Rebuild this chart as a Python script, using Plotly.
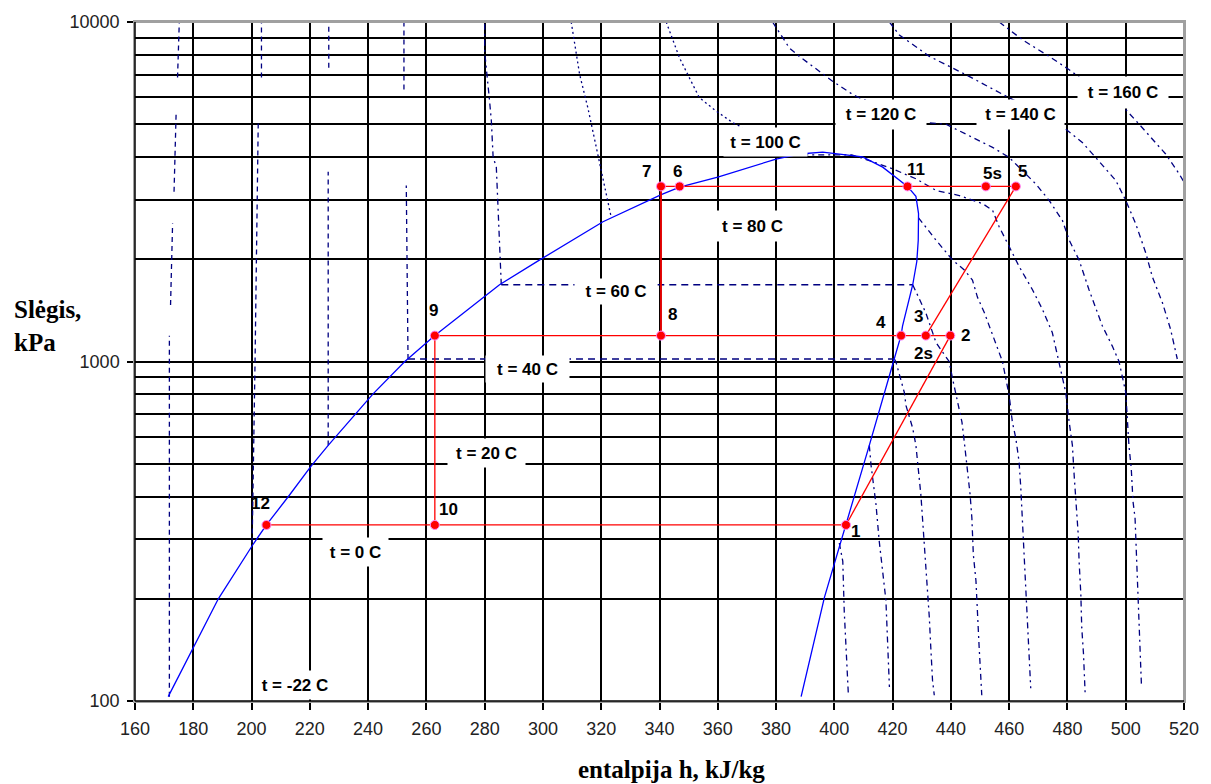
import math
import plotly.graph_objects as go

# ---------------- data ----------------
# saturation dome of the refrigerant: enthalpy (kJ/kg) and pressure (kPa)
dome_h = [171.4, 180.0, 188.6, 200.6, 205.1, 213.1, 220.3, 226.3, 236.0, 241.7, 252.6, 262.9,
          285.1, 298.9, 320.6, 340.6, 346.9, 360.0, 380.0, 388.0, 396.0, 405.1, 409.7, 416.6,
          422.3, 425.1, 428.0, 428.9, 428.8, 428.3, 426.9, 425.1, 423.4, 422.9, 421.1, 420.3,
          412.0, 404.0, 396.6, 388.6]
dome_P = [103, 144, 200, 290, 330, 405, 490, 566, 709, 803, 1000, 1192,
          1683, 1992, 2580, 3100, 3264, 3491, 3947, 4085, 4135, 4060, 4007, 3736,
          3411, 3279, 3065, 2728, 2277, 1970, 1683, 1455, 1272, 1194, 1062, 1000,
          566, 330, 202, 103]

# cycle state points
pt_labels = ["12", "10", "1", "9", "8", "4", "3", "2", "7", "6", "11", "5s", "5"]
pt_h = [205.1, 262.9, 404.0, 262.9, 340.5, 422.9, 431.4, 439.8, 340.5, 346.9, 425.1, 452.0, 462.3]
pt_P = [330, 330, 330, 1192, 1192, 1192, 1192, 1192, 3279, 3279, 3279, 3279, 3279]
# label offsets in pixels (right, down)
pt_dx = [-6, 14, 10, -1, 12, -20, -7, 15, -14, -2, 9, 7, 7]
pt_dy = [-21, -15, 7, -25, -21, -13, -19, 0, -15, -15, -17, -13, -15]
# process lines of the cycle (chains of state points)
cycle_paths = [["12", "10", "1"], ["10", "9"], ["9", "8", "4", "3", "2"], ["1", "2"],
               ["3", "5"], ["7", "6", "11", "5s", "5"]]
throttle_path = ["8", "7"]

# isotherms (None = gap in the drawn line)
tm22_h = [171.8, 171.8, 171.8, None, 172.2, 172.9, None, 173.4, 174.1, None, 174.6, 175.2]
tm22_P = [103, 1000, 1191, None, 1468, 2550, None, 3162, 5346, None, 6860, 10000]

t0_liq_h = [200.2, 200.9, 201.2, 202.3, None, 203.4, 203.4]
t0_liq_P = [293, 880, 1000, 5100, None, 6860, 10000]
t0_vap_h = [401.7, 402.9, 403.4, 404.0, 404.8]
t0_vap_P = [292, 258, 184, 147, 105]

t20_liq_h = [226.3, 226.3, None, 226.5, 226.5]
t20_liq_P = [566, 3619, None, 7335, 10000]
t20_vap_h = [412.0, 412.6, 414.3, 415.4, 417.7, 418.9]
t20_vap_P = [566, 495, 379, 296, 198, 110]

t40_liq_h = [253.7, 253.1, None, 252.3, 252.3]
t40_liq_P = [1017, 3300, None, 6326, 10000]
t40_two_h = [253.7, 420.6]
t40_two_P = [1017, 1017]
t40_vap_h = [420.6, 421.1, 424.0, 424.6, 426.9, 428.0, 429.7, 430.6, 431.2, 432.0, 432.6, 433.1, 433.7, 434.3]
t40_vap_P = [1017, 1000, 812, 741, 636, 566, 405, 317, 258, 206, 176, 144, 115, 104]

t60_liq_h = [285.7, 285.1, 284.6, 284.0, 282.9, 282.3, 281.7, 280.6, 280.0, 280.0]
t60_liq_P = [1683, 2330, 2676, 3738, 4000, 5100, 5838, 7146, 8170, 10000]
t60_two_h = [285.7, 426.9]
t60_two_P = [1683, 1683]
t60_vap_h = [426.9, 431.4, 434.9, 439.4, 440.6, 442.3, 443.8, 444.6, 445.7, 446.6, 447.2, 447.7,
             448.6, 449.1, 449.7, 450.6]
t60_vap_P = [1683, 1391, 1137, 1000, 888, 762, 663, 580, 484, 405, 346, 270, 226, 180, 144, 104]

t80_liq_h = [309.7, 312.6, 315.4, 319.4, 321.7, 323.4]
t80_liq_P = [10000, 6998, 5596, 3820, 3120, 2666]
t80_vap_h = [428.9, 434.9, 440.6, 444.6, 447.4, 449.1, 451.5, 454.0, 456.0, 457.7, 460.0, 461.1,
             462.3, 463.4, 464.0, 464.6, 465.1, 465.7, 466.3, 466.9, 467.4]
t80_vap_P = [2650, 2277, 1989, 1860, 1738, 1548, 1391, 1217, 1090, 1000, 794, 663,
             593, 507, 423, 338, 270, 221, 169, 144, 109]

t100_liq_h = [342.3, 346.9, 351.4, 353.7, 359.4, 365.1, 367.4, 378.0]
t100_liq_P = [10000, 7830, 6545, 5982, 5469, 5054, 4940, 4060]
t100_vap_h = [378.0, 406.0, 412.0, 420.0, 428.0, 434.9, 442.9, 450.9, 454.3, 456.6, 460.0, 463.4,
              468.0, 471.4, 474.8, 477.1, 479.4, 480.6, 481.7, 482.3, 482.9, 483.7, 484.0, 484.6,
              484.9, 485.5, 486.1]
t100_vap_P = [4060, 4060, 3908, 3694, 3453, 3190, 3082, 2917, 2788, 2490, 2181, 1906,
              1627, 1425, 1217, 1000, 812, 663, 566, 463, 387, 309, 258, 206,
              165, 138, 104]

t120_h = [378.8, 384.6, 388.0, 394.9, 399.4, 406.3, 408.6, 420.0, 431.4, 438.3, 448.6, 454.3,
          460.0, 464.6, 469.1, 473.7, 478.3, 480.6, 484.0, 487.4, 492.0, 495.4, 497.7, 500.0,
          500.6, 501.1, 501.9, 502.5, 503.2, 503.7, 504.0, 504.6, 505.2, 505.4]
t120_P = [10000, 8379, 7920, 7156, 6694, 6117, 5982, 5500, 5054, 5000, 4518, 4273,
          3990, 3650, 3337, 2984, 2600, 2277, 1989, 1627, 1272, 1110, 1000, 812,
          678, 566, 484, 387, 346, 270, 211, 165, 132, 111]

t140_h = [418.9, 422.3, 432.6, 445.1, 458.9, 470.0, 479.4, 485.1, 489.7, 496.6, 500.0, 503.4,
          506.9, 509.1, 512.6, 515.4, 517.7]
t140_P = [10000, 9160, 7920, 7000, 6050, 5400, 4834, 4418, 3990, 3411, 2984, 2549,
          2086, 1780, 1489, 1244, 1017]

t160_h = [456.6, 464.6, 473.7, 480.6, 485.1, 498.9, 504.6, 513.7, 518.3, 521.7]
t160_P = [10000, 8858, 7920, 7236, 6770, 5655, 5000, 4085, 3573, 3190]

# isotherm labels: text, enthalpy, log10(pressure), box width, box height (px)
iso_text = ["t = -22 C", "t = 0 C", "t = 20 C", "t = 40 C", "t = 60 C", "t = 80 C",
            "t = 100 C", "t = 120 C", "t = 140 C", "t = 160 C"]
iso_h = [214.9, 235.8, 280.5, 294.7, 324.9, 371.9, 376.3, 416.1, 463.8, 499.1]
iso_logP = [2.0468, 2.4386, 2.731, 2.9766, 3.2076, 3.4006, 3.6462, 3.728, 3.728, 3.7924]
iso_w = [78, 65, 77, 83, 82, 77, 83, 90, 87, 90]
iso_hgt = [28, 28, 28, 26, 25, 30, 28, 29, 29, 31]

x_ticks = list(range(160, 521, 20))
y_major = [100, 1000, 10000]
y_major_text = ["100", "1000", "10000"]
y_minor = [m * d for d in (100, 1000) for m in range(2, 10)]

# ---------------- styles ----------------
NAVY = "#000080"
DASH_LIQ = "5px,4px"
DASH_TWO = "7px,5px"
DASH_VAP = "6px,4px,2px,4px"
DOT = "2px,3px"

fig = go.Figure()


def iso(h, P, dash, width=1.3):
    fig.add_trace(go.Scatter(x=h, y=P, mode="lines", showlegend=False, hoverinfo="skip",
                             connectgaps=False,
                             line=dict(color=NAVY, width=width, dash=dash)))


iso(tm22_h, tm22_P, DASH_LIQ)
iso(t0_liq_h, t0_liq_P, DASH_LIQ)
iso(t0_vap_h, t0_vap_P, DASH_VAP)
iso(t20_liq_h, t20_liq_P, DASH_LIQ)
iso(t20_vap_h, t20_vap_P, DASH_VAP)
iso(t40_liq_h, t40_liq_P, DASH_LIQ)
iso(t40_two_h, t40_two_P, DASH_TWO)
iso(t40_vap_h, t40_vap_P, DASH_VAP)
iso(t60_liq_h, t60_liq_P, DASH_VAP)
iso(t60_two_h, t60_two_P, DASH_TWO)
iso(t60_vap_h, t60_vap_P, DASH_VAP)
iso(t80_liq_h, t80_liq_P, DOT)
iso(t80_vap_h, t80_vap_P, DASH_VAP)
iso(t100_liq_h, t100_liq_P, DOT)
iso(t100_vap_h, t100_vap_P, DASH_VAP)
iso(t120_h, t120_P, DASH_VAP)
iso(t140_h, t140_P, DASH_VAP)
iso(t160_h, t160_P, DASH_VAP)

# saturation dome
fig.add_trace(go.Scatter(x=dome_h, y=dome_P, mode="lines", showlegend=False, hoverinfo="skip",
                         line=dict(color="#0000FF", width=1.3)))

# cycle lines
idx = {lab: i for i, lab in enumerate(pt_labels)}
cx, cy = [], []
for path in cycle_paths:
    for lab in path:
        cx.append(pt_h[idx[lab]])
        cy.append(pt_P[idx[lab]])
    cx.append(None)
    cy.append(None)
fig.add_trace(go.Scatter(x=cx, y=cy, mode="lines", showlegend=False, hoverinfo="skip",
                         connectgaps=False, line=dict(color="#FF0000", width=1.3)))
fig.add_trace(go.Scatter(x=[pt_h[idx[l]] for l in throttle_path],
                         y=[pt_P[idx[l]] for l in throttle_path],
                         mode="lines", showlegend=False, hoverinfo="skip",
                         line=dict(color="#E00000", width=2)))

# state point markers
fig.add_trace(go.Scatter(x=pt_h, y=pt_P, mode="markers", showlegend=False, hoverinfo="skip",
                         marker=dict(size=9, color="#FF0000",
                                     line=dict(color="#FF88FF", width=1))))

LBL_FONT = dict(family="Liberation Sans", size=17, color="black")

annotations = []
for lab, h, P, dx, dy in zip(pt_labels, pt_h, pt_P, pt_dx, pt_dy):
    annotations.append(dict(x=h, y=math.log10(P), xref="x", yref="y", text="<b>%s</b>" % lab,
                            showarrow=False, xshift=dx, yshift=-dy, font=LBL_FONT))
# extra label of point 3 (isentropic end state 2s)
annotations.append(dict(x=pt_h[idx["3"]], y=math.log10(pt_P[idx["3"]]), xref="x", yref="y",
                        text="<b>2s</b>", showarrow=False, xshift=-2, yshift=-18, font=LBL_FONT))

for t, h, lp, w, hh in zip(iso_text, iso_h, iso_logP, iso_w, iso_hgt):
    annotations.append(dict(x=h, y=lp, xref="x", yref="y", text="<b>%s</b>" % t,
                            showarrow=False, bgcolor="white", borderpad=0,
                            width=w, height=hh, font=LBL_FONT))

TITLE_FONT = dict(family="Liberation Serif", size=25, color="black")
annotations.append(dict(x=-0.1171, y=0.5526, xref="paper", yref="paper",
                        text="<b>Slėgis,<br>kPa</b>", showarrow=False, align="left",
                        xanchor="left", yanchor="middle", font=TITLE_FONT))
annotations.append(dict(x=0.5114, y=-0.1009, xref="paper", yref="paper",
                        text="<b>entalpija h, kJ/kg</b>", showarrow=False,
                        xanchor="center", yanchor="middle", font=TITLE_FONT))

TICK_FONT = dict(family="Liberation Sans", size=18, color="#222222")

fig.update_layout(
    width=1211, height=784,
    margin=dict(l=135, r=26, t=17, b=83, pad=0),
    paper_bgcolor="white", plot_bgcolor="white",
    showlegend=False,
    annotations=annotations,
    xaxis=dict(range=[160, 520], tickmode="array", tickvals=x_ticks,
               ticktext=[str(v) for v in x_ticks], tickfont=TICK_FONT,
               showgrid=True, gridcolor="black", gridwidth=1.5,
               ticks="outside", ticklen=7, tickcolor="black", tickwidth=1.5,
               ticklabelstandoff=4,
               showline=True, linecolor="#A0A0A0", linewidth=1.5, mirror=True,
               zeroline=False),
    yaxis=dict(type="log", range=[2, 4], tickmode="array", tickvals=y_major,
               ticktext=y_major_text, tickfont=TICK_FONT,
               showgrid=True, gridcolor="black", gridwidth=1.5,
               ticks="outside", ticklen=6, tickcolor="black", tickwidth=1.5,
               ticklabelstandoff=4,
               minor=dict(tickmode="array", tickvals=y_minor, showgrid=True,
                          gridcolor="black", gridwidth=1.5, ticks=""),
               showline=True, linecolor="#A0A0A0", linewidth=1.5, mirror=True,
               zeroline=False),
    shapes=[
        dict(type="line", xref="paper", yref="paper", x0=1, x1=1, y0=0, y1=1,
             line=dict(color="#A0A0A0", width=2), layer="above"),
        dict(type="line", xref="paper", yref="paper", x0=0, x1=1, y0=1, y1=1,
             line=dict(color="#A0A0A0", width=2), layer="above"),
        dict(type="line", xref="paper", yref="paper", x0=0, x1=0, y0=0, y1=1,
             line=dict(color="black", width=1.5), layer="above"),
        dict(type="line", xref="paper", yref="paper", x0=0, x1=1, y0=0, y1=0,
             line=dict(color="black", width=1.5), layer="above"),
    ],
)

fig.write_html("out.html",
               config={"displayModeBar": False},
               post_script="document.body.style.margin='0px';"
                           "document.body.style.overflow='hidden';")
